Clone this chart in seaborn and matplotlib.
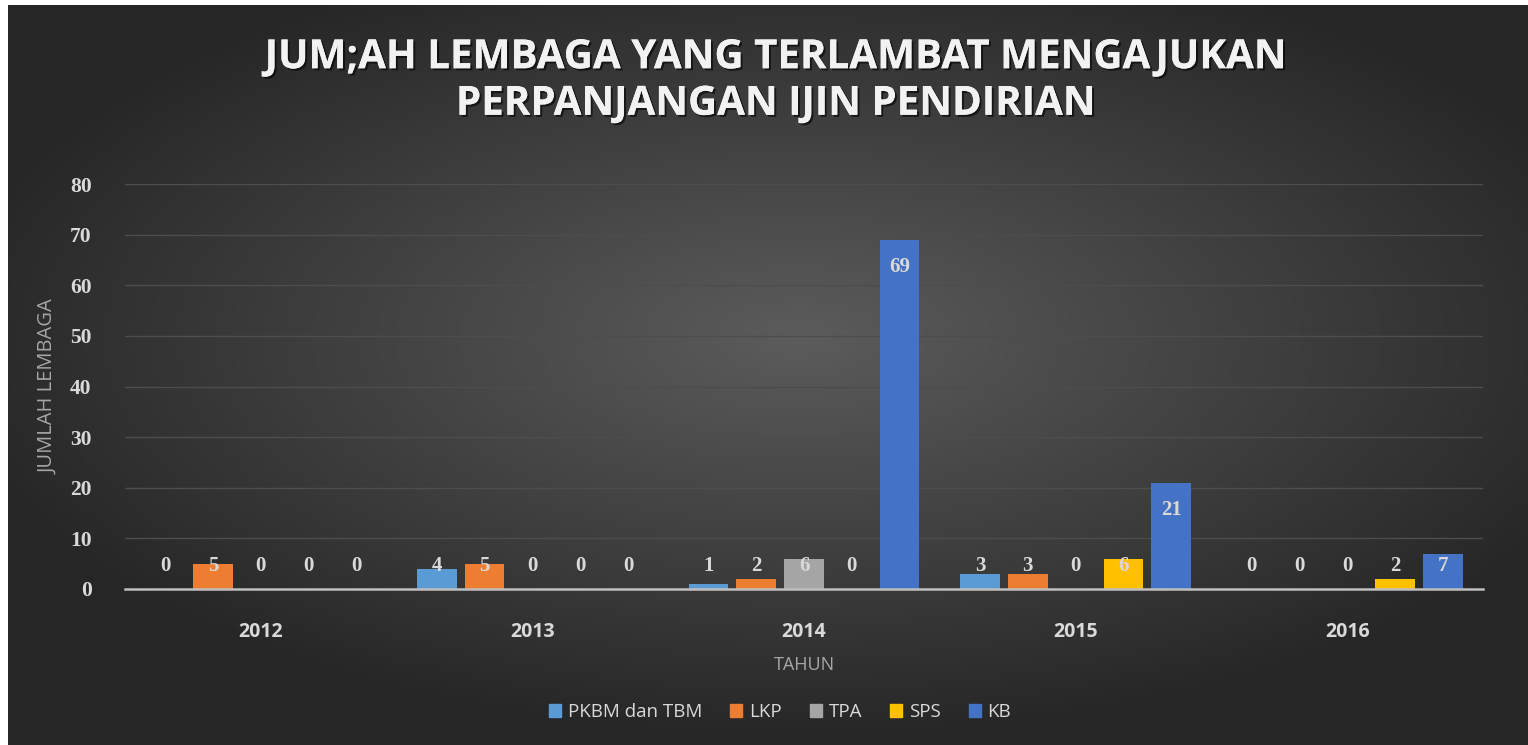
import numpy as np
import pandas as pd
import matplotlib
matplotlib.use("Agg")
import matplotlib.pyplot as plt
import matplotlib.patheffects as pe
import seaborn as sns

years = ["2012", "2013", "2014", "2015", "2016"]
series = ["PKBM dan TBM", "LKP", "TPA", "SPS", "KB"]
pkbm = [0, 4, 1, 3, 0]
lkp = [5, 5, 2, 3, 0]
tpa = [0, 0, 6, 0, 0]
sps = [0, 0, 0, 6, 2]
kb = [0, 0, 69, 21, 7]
colors = ["#5B9BD5", "#ED7D31", "#A5A5A5", "#FFC000", "#4472C4"]

rows = []
for name, vals in zip(series, [pkbm, lkp, tpa, sps, kb]):
    for y, v in zip(years, vals):
        rows.append({"Tahun": y, "Lembaga": name, "Jumlah": v})
df = pd.DataFrame(rows)

sns.set_style("dark")
plt.rcParams["font.family"] = ["Open Sans", "DejaVu Sans"]

W, H = 1528, 745
fig = plt.figure(figsize=(W / 100, H / 100), dpi=100)
fig.patch.set_facecolor("white")

# radial dark background
bg = fig.add_axes([8 / W, 0, 1 - 8 / W, 1 - 5 / H], zorder=-10)
gx, gy = np.meshgrid(np.linspace(-1, 1, 400), np.linspace(-1, 1, 200))
r = np.sqrt(((gx - 0.04) / 1.0) ** 2 + ((gy + 0.1) / 0.95) ** 2)
shade = np.clip(1 - r / 1.15, 0, 1) ** 1.0
g = 0.15 + 0.21 * shade
bg.imshow(np.dstack([g, g, g]), aspect="auto", extent=[0, 1, 0, 1])
bg.set_axis_off()

ax = fig.add_axes([125 / W, (H - 589) / H, (1483 - 125) / W, (589 - 184) / H])
ax.set_facecolor("none")
sns.barplot(data=df, x="Tahun", y="Jumlah", hue="Lembaga", hue_order=series,
            palette=colors, width=0.88, gap=0.17, ax=ax, saturation=1,
            edgecolor="none", linewidth=0, zorder=3)
ax.legend_.remove()

ax.set_ylim(0, 80)
ax.set_yticks(range(0, 81, 10))
ax.yaxis.grid(True, color="#4d4d4d", linewidth=1.0, zorder=0)
ax.xaxis.grid(False)
for s in ["top", "right", "left"]:
    ax.spines[s].set_visible(False)
ax.spines["bottom"].set_color("#bfbfbf")
ax.spines["bottom"].set_linewidth(1.8)
ax.spines["bottom"].set_zorder(4)
ax.tick_params(axis="both", length=0)
ax.tick_params(axis="y", pad=24)
ax.tick_params(axis="x", pad=24)
for t in ax.get_yticklabels():
    t.set_fontfamily("Liberation Serif")
    t.set_fontweight("bold")
    t.set_fontsize(15.5)
    t.set_color("#d9d9d9")
for t in ax.get_xticklabels():
    t.set_fontfamily("Open Sans")
    t.set_fontweight("bold")
    t.set_fontsize(14)
    t.set_color("#d9d9d9")

ax.set_xlabel("TAHUN", fontsize=13, color="#a6a6a6", labelpad=10)
ax.set_ylabel("JUMLAH LEMBAGA", fontsize=14.5, color="#a6a6a6", labelpad=8)

# data labels
for cont, vals in zip(ax.containers, [pkbm, lkp, tpa, sps, kb]):
    for bar, v in zip(cont, vals):
        cx = bar.get_x() + bar.get_width() / 2
        ypos = max(v - 5.3, 4.6)
        ax.text(cx, ypos, str(v), ha="center", va="center", fontsize=15,
                fontweight="bold", family="Liberation Serif", color="#d9d9d9",
                zorder=5)

title = "JUM;AH LEMBAGA YANG TERLAMBAT MENGAJUKAN\nPERPANJANGAN IJIN PENDIRIAN"
fig.text(776 / W, 1 - 81 / H, title, ha="center", va="center", fontsize=29,
         fontweight="bold", color="#f2f2f2", linespacing=1.25,
         path_effects=[pe.withSimplePatchShadow(offset=(1.5, -1.5), shadow_rgbFace="black", alpha=0.6),
                       pe.Normal()])

handles = [plt.Rectangle((0, 0), 1, 1, color=c) for c in colors]
leg = fig.legend(handles, series, loc="center", bbox_to_anchor=(780 / W, 1 - 712 / H),
                 ncol=5, frameon=False, fontsize=13.5, handlelength=0.65,
                 handleheight=0.65, handletextpad=0.35, columnspacing=1.5)
for t in leg.get_texts():
    t.set_color("#d9d9d9")

fig.savefig("out.png", dpi=100)
